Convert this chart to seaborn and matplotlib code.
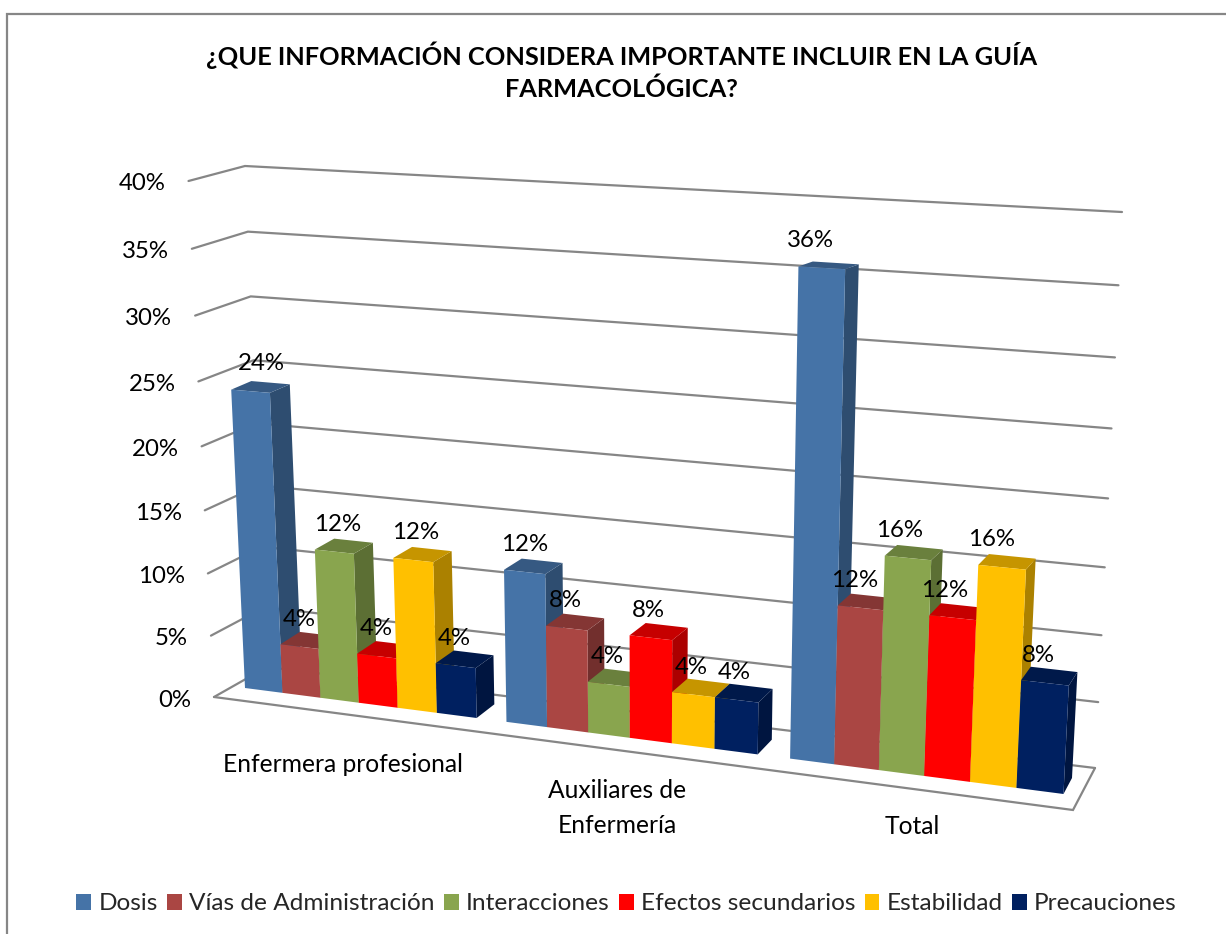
import numpy as np
import pandas as pd
import matplotlib
matplotlib.use("Agg")
import matplotlib.pyplot as plt
import matplotlib.transforms as mtransforms
import seaborn as sns

# ---- data ----
groups = ["Enfermera profesional", "Auxiliares de\nEnfermería", "Total"]
series = ["Dosis", "Vías de Administración", "Interacciones",
          "Efectos secundarios", "Estabilidad", "Precauciones"]
dosis = [24, 12, 36]
vias = [4, 8, 12]
interacciones = [12, 4, 16]
efectos = [4, 8, 12]
estabilidad = [12, 4, 16]
precauciones = [4, 4, 8]
colors = ["#4573A7", "#AA4643", "#89A54E", "#FF0000", "#FFC000", "#002060"]
ticks = [0, 5, 10, 15, 20, 25, 30, 35, 40]
title = "¿QUE INFORMACIÓN CONSIDERA IMPORTANTE INCLUIR EN LA GUÍA\nFARMACOLÓGICA?"

W, H = 1226, 934
FONT = "Lato"
sns.set_theme(style="white")
plt.rcParams["font.family"] = [FONT, "DejaVu Sans"]


# ---- perspective of the 3-D look: planes anchored at (x, value) corners ----
def homography(x0, x1, v0, v1, ll, rl, lu, ru):
    src = [(x0, v0), (x1, v0), (x0, v1), (x1, v1)]
    dst = [ll, rl, lu, ru]
    A, b = [], []
    for (s, t), (p, q) in zip(src, dst):
        A.append([s, t, 1, 0, 0, 0, -p * s, -p * t]); b.append(p)
        A.append([0, 0, 0, s, t, 1, -q * s, -q * t]); b.append(q)
    return np.append(np.linalg.solve(np.array(A, float), np.array(b, float)), 1).reshape(3, 3)


def project(M, xy):
    xy = np.atleast_2d(np.asarray(xy, float))
    p = np.c_[xy, np.ones(len(xy))] @ M.T
    out = p[:, :2] / p[:, 2:]
    out[:, 1] = H - out[:, 1]
    return out


class Perspective(mtransforms.Transform):
    input_dims = output_dims = 2
    is_affine = False
    has_inverse = False

    def __init__(self, M):
        super().__init__()
        self.M = M

    def transform_non_affine(self, values):
        return project(self.M, values)


BW = 0.89
XL, XR = -BW / 2, 2 + BW / 2
front = homography(XL, XR, 0, 40, (245, 688), (1063.5, 794), (221.5, 179), (1091.5, 223))
back = homography(XL, XR, 0, 40, (264.5, 675), (1072, 778), (242, 173.5), (1100.5, 220))
wall = homography(XL, XR, 0, 40, (267, 667), (1095, 768), (245, 166), (1122, 212))
edge = homography(XL, XR, 0, 40, (214, 697), (1073, 810), (188.5, 181), (1101, 235))
display = mtransforms.IdentityTransform()


def pix(x, y):
    return x, H - y


df = pd.DataFrame({
    "grupo": groups * 6,
    "serie": np.repeat(series, 3),
    "valor": dosis + vias + interacciones + efectos + estabilidad + precauciones,
})

fig = plt.figure(figsize=(W / 100, H / 100), dpi=100, facecolor="white")
ax = fig.add_axes([0, 0, 1, 1])
sns.barplot(df, x="grupo", y="valor", hue="serie", order=groups, hue_order=series,
            palette=dict(zip(series, colors)), saturation=1, width=BW, gap=0,
            errorbar=None, linewidth=0, ax=ax)
sns.move_legend(ax, "center", bbox_to_anchor=(626.5 / W, 1 - 904 / H), ncol=6, title=None,
                frameon=False, fontsize=17.6, handlelength=0.61, handleheight=0.61,
                handletextpad=0.29, columnspacing=0.38, borderpad=0, borderaxespad=0)
ax.set_axis_off()

# ---- wall, floor and gridlines ----
GRID = "#868686"
LW = 1.6
for v in ticks:
    a = project(edge, (XL, v))[0]
    b = project(wall, (XL, v))[0]
    c = project(wall, (XR, v))[0]
    ax.plot([a[0], b[0], c[0]], [a[1], b[1], c[1]], color=GRID, lw=LW, transform=display,
            clip_on=False, zorder=1, solid_joinstyle="miter")
    ax.text(a[0] - 23, a[1] - 3, f"{v}%", transform=display, ha="right", va="center",
            fontsize=17.3, color="black")
fl = project(edge, (XL, 0))[0]
fr = project(edge, (XR, 0))[0]
br = project(wall, (XR, 0))[0]
ax.plot([fl[0], fr[0], br[0]], [fl[1], fr[1], br[1]], color=GRID, lw=LW, transform=display,
        clip_on=False, zorder=1, solid_joinstyle="miter")

# ---- bars: seaborn's rectangles are reprojected, then given top and side faces ----
front_tf = Perspective(front)
for hue_i, container in enumerate(ax.containers):
    col = np.array(matplotlib.colors.to_rgb(colors[hue_i]))
    for rect in container:
        x0, x1, v = rect.get_x(), rect.get_x() + rect.get_width(), rect.get_height()
        g = int(round((x0 + x1) / 2))
        z = 10 + 3 * (g * 6 + hue_i)
        rect.set_transform(front_tf)
        rect.set_clip_on(False)
        rect.set_zorder(z + 2)
        rect.set_linewidth(0)
        top = np.r_[project(front, [(x0, v), (x1, v)]), project(back, [(x1, v), (x0, v)])]
        side = np.r_[project(front, [(x1, 0), (x1, v)]), project(back, [(x1, v), (x1, 0)])]
        ax.add_patch(plt.Polygon(top, closed=True, transform=display, facecolor=col * 0.776,
                                 linewidth=0, clip_on=False, zorder=z + 1))
        ax.add_patch(plt.Polygon(side, closed=True, transform=display, facecolor=col * 0.67,
                                 linewidth=0, clip_on=False, zorder=z))
        xc = (x0 + x1) / 2
        lx = project(front, (xc, 0))[0][0] - 2
        ly = project(front, (xc, v))[0][1] + 27.5
        ax.text(lx, ly, f"{v:.0f}%", transform=display, ha="center", va="center",
                fontsize=17.3, color="black", zorder=100)

# ---- category labels, title, frame ----
label_pos = [(343, 764), (617, 808), (912, 827)]
for name, (lx, ly) in zip(groups, label_pos):
    ax.text(*pix(lx, ly), name, transform=display, ha="center", va="center", fontsize=17.7,
            linespacing=1.65, color="black", zorder=100)
ax.text(*pix(621.5, 71), title, transform=display, ha="center", va="center", fontsize=18.3,
        fontweight="bold", linespacing=1.42, color="black", zorder=100)
fig.add_artist(plt.Line2D([6.5, 6.5, W], [0, H - 14, H - 14], transform=display,
                          color=GRID, lw=1.6, solid_joinstyle="miter"))

fig.savefig("out.png", dpi=100)
